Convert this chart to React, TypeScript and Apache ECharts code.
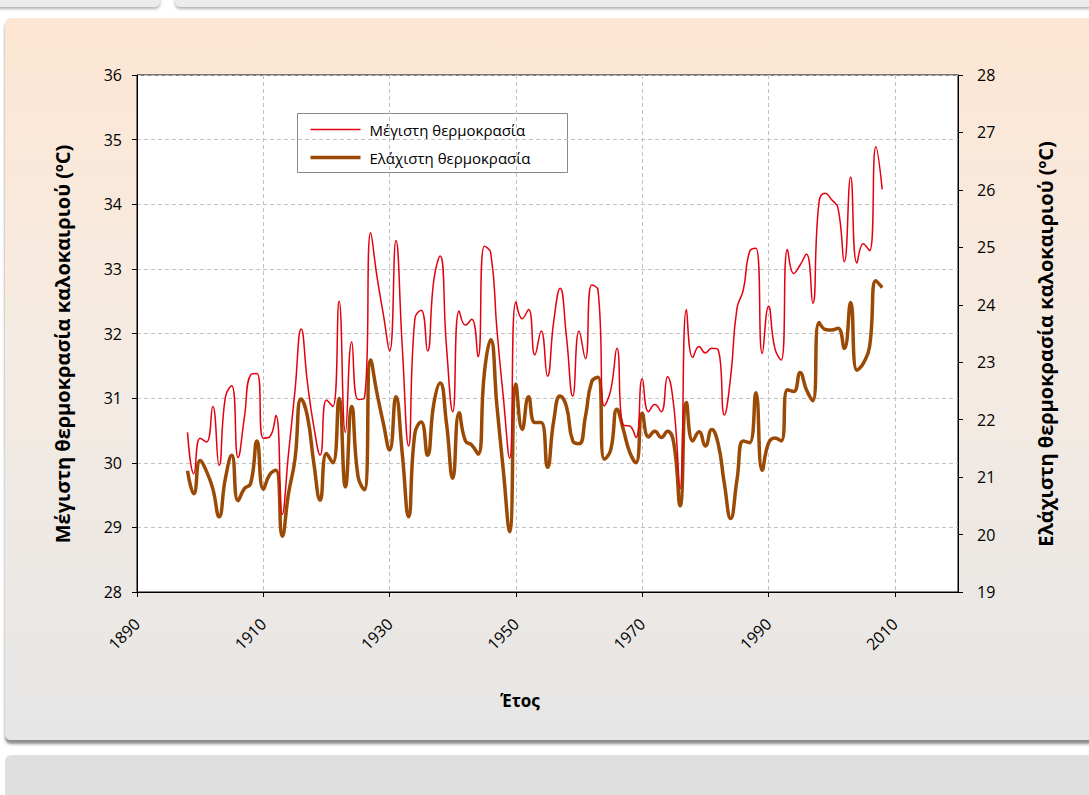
import React, { useEffect, useRef } from "react";
import * as echarts from "echarts";

const FONT = "'Open Sans', 'Noto Sans', sans-serif";

const START_YEAR = 1898;

// Maximum summer temperature (left axis, °C), 1898–2008
const maxTemp = [
  30.47, 29.83, 30.38, 30.32, 30.87, 29.96, 31.02, 31.19, 30.08, 30.70, // 1898-1907
  31.36, 31.38, 30.38, 30.40, 30.73, 29.20, 30.15, 31.10, 32.07, 31.23, // 1908-1917
  30.56, 30.12, 30.97, 30.87, 32.50, 30.47, 31.87, 30.98, 31.00, 33.56, // 1918-1927
  32.88, 32.30, 31.73, 33.44, 31.80, 30.26, 32.23, 32.36, 31.73, 32.83, // 1928-1937
  33.20, 31.80, 30.79, 32.35, 32.13, 32.22, 31.64, 33.35, 33.25, 32.05, // 1938-1947
  31.02, 30.07, 32.49, 32.23, 32.37, 31.67, 32.04, 31.34, 32.20, 32.70, // 1948-1957
  31.95, 31.03, 32.04, 31.61, 32.75, 32.67, 30.88, 31.12, 31.77, 30.58, // 1958-1967
  30.57, 30.39, 31.30, 30.79, 30.90, 30.79, 31.33, 30.87, 29.60, 32.37, // 1968-1977
  31.63, 31.80, 31.70, 31.77, 31.75, 30.74, 31.33, 32.39, 32.67, 33.27, // 1978-1987
  33.32, 31.69, 32.42, 31.77, 31.59, 33.30, 32.93, 33.06, 33.23, 32.47, // 1988-1997
  34.04, 34.17, 34.07, 33.94, 33.11, 34.42, 33.09, 33.39, 33.28, 34.89, // 1998-2007
  34.23, // 2008
];

// Minimum summer temperature (right axis, °C), 1898–2008
const minTemp = [
  21.11, 20.71, 21.29, 21.10, 20.80, 20.31, 20.98, 21.38, 20.59, 20.80, // 1898-1907
  20.89, 21.63, 20.79, 21.04, 21.12, 19.97, 20.72, 21.30, 22.36, 22.05, // 1908-1917
  21.24, 20.60, 21.41, 21.25, 22.37, 20.83, 22.23, 21.01, 20.78, 23.04, // 1918-1927
  22.46, 21.94, 21.47, 22.40, 21.41, 20.31, 21.76, 21.96, 21.38, 22.28, // 1928-1937
  22.64, 21.94, 20.98, 22.12, 21.63, 21.56, 21.40, 22.81, 23.39, 22.23, // 1938-1947
  21.12, 20.05, 22.62, 21.83, 22.40, 21.95, 21.95, 21.17, 21.99, 22.41, // 1948-1957
  22.23, 21.63, 21.58, 22.05, 22.66, 22.74, 21.31, 21.47, 22.18, 21.83, // 1958-1967
  21.44, 21.25, 22.11, 21.70, 21.80, 21.69, 21.80, 21.59, 20.50, 22.30, // 1968-1977
  21.63, 21.79, 21.54, 21.83, 21.59, 20.89, 20.28, 20.95, 21.63, 21.60, // 1978-1987
  22.47, 21.12, 21.59, 21.68, 21.63, 22.52, 22.49, 22.82, 22.52, 22.33, // 1988-1997
  23.69, 23.57, 23.56, 23.59, 23.24, 24.04, 22.86, 22.98, 23.27, 24.42, // 1998-2007
  24.30, // 2008
];

const years = maxTemp.map((_, i) => START_YEAR + i);

const seriesNames = ["Μέγιστη θερμοκρασία", "Ελάχιστη θερμοκρασία"];
const leftTitle = "Μέγιστη θερμοκρασία καλοκαιριού (ºC)";
const rightTitle = "Ελάχιστη θερμοκρασία καλοκαιριού (ºC)";
const xTitle = "Έτος";

const xRange = { min: 1890, max: 2020, interval: 20 };
const leftRange = { min: 28, max: 36, interval: 1 };
const rightRange = { min: 19, max: 28, interval: 1 };

const RED = "#e3000f";
const BROWN = "#9b4a06";

export default function App() {
  const ref = useRef<HTMLDivElement>(null);

  useEffect(() => {
    if (!ref.current) return;
    const chart = echarts.init(ref.current, undefined, { renderer: "svg" });
    const gridDash = { type: [4, 3] as any, color: "#c2c2c2", width: 1 };
    const axisBlack = { show: true, lineStyle: { color: "#000", width: 1 } };
    const titleStyle = {
      fontFamily: FONT,
      fontSize: 20,
      fontWeight: "bold",
      fill: "#000",
      align: "center",
      verticalAlign: "middle",
    };
    const option: any = {
      animation: false,
      backgroundColor: "transparent",
      textStyle: { fontFamily: FONT },
      grid: {
        left: 137,
        right: 131,
        top: 75,
        bottom: 203,
        show: true,
        backgroundColor: "#ffffff",
        borderColor: "#000",
        borderWidth: 1,
      },
      xAxis: {
        type: "value",
        min: xRange.min,
        max: xRange.max,
        interval: xRange.interval,
        axisLine: axisBlack,
        axisTick: { show: true, length: 5, lineStyle: { color: "#000" } },
        axisLabel: {
          rotate: 45,
          fontSize: 16,
          color: "#000",
          margin: 29,
          fontFamily: FONT,
          showMaxLabel: false,
          formatter: (v: number) => String(v),
        },
        splitLine: { show: true, lineStyle: gridDash },
      },
      yAxis: [
        {
          type: "value",
          position: "left",
          min: leftRange.min,
          max: leftRange.max,
          interval: leftRange.interval,
          axisLine: axisBlack,
          axisTick: { show: true, length: 5, lineStyle: { color: "#000" } },
          axisLabel: { fontSize: 16, color: "#000", margin: 15, fontFamily: FONT },
          splitLine: { show: true, lineStyle: gridDash },
        },
        {
          type: "value",
          position: "right",
          min: rightRange.min,
          max: rightRange.max,
          interval: rightRange.interval,
          axisLine: axisBlack,
          axisTick: { show: true, length: 5, lineStyle: { color: "#000" } },
          axisLabel: { fontSize: 16, color: "#000", margin: 19, fontFamily: FONT },
          splitLine: { show: false },
        },
      ],
      series: [
        {
          name: seriesNames[0],
          type: "line",
          yAxisIndex: 0,
          data: years.map((y, i) => [y, maxTemp[i]]),
          smooth: 0.5,
          symbol: "none",
          lineStyle: { color: RED, width: 1.5 },
          itemStyle: { color: RED },
          z: 3,
        },
        {
          name: seriesNames[1],
          type: "line",
          yAxisIndex: 1,
          data: years.map((y, i) => [y, minTemp[i]]),
          smooth: 0.5,
          symbol: "none",
          lineStyle: { color: BROWN, width: 3.5 },
          itemStyle: { color: BROWN },
          z: 2,
        },
      ],
      graphic: [
        {
          type: "group",
          left: 297,
          top: 113,
          z: 10,
          children: [
            {
              type: "rect",
              shape: { x: 0, y: 0, width: 270, height: 59 },
              style: { fill: "#ffffff", stroke: "#8a8a8a", lineWidth: 1 },
            },
            {
              type: "line",
              shape: { x1: 13, y1: 16, x2: 63, y2: 16 },
              style: { stroke: RED, lineWidth: 1.5 },
            },
            {
              type: "text",
              x: 72,
              y: 16,
              style: {
                text: seriesNames[0],
                fontFamily: FONT,
                fontSize: 15,
                fill: "#000",
                align: "left",
                verticalAlign: "middle",
              },
            },
            {
              type: "line",
              shape: { x1: 13, y1: 44, x2: 63, y2: 44 },
              style: { stroke: BROWN, lineWidth: 3.5 },
            },
            {
              type: "text",
              x: 72,
              y: 44,
              style: {
                text: seriesNames[1],
                fontFamily: FONT,
                fontSize: 15,
                fill: "#000",
                align: "left",
                verticalAlign: "middle",
              },
            },
          ],
        },
        {
          type: "text",
          x: 62,
          y: 344,
          rotation: Math.PI / 2,
          style: { ...titleStyle, text: leftTitle },
        },
        {
          type: "text",
          x: 1045,
          y: 344,
          rotation: Math.PI / 2,
          style: { ...titleStyle, text: rightTitle },
        },
        {
          type: "text",
          x: 520,
          y: 700,
          style: { ...titleStyle, fontSize: 17, text: xTitle },
        },
      ],
    };
    chart.setOption(option);
    return () => chart.dispose();
  }, []);

  return (
    <div
      style={{
        position: "absolute",
        left: 0,
        top: 0,
        width: 1089,
        height: 795,
        overflow: "hidden",
        background: "#ffffff",
      }}
    >
      <div
        style={{
          position: "absolute",
          left: -5,
          top: -10,
          width: 165,
          height: 17,
          background: "#ececec",
          borderRadius: 5,
          boxShadow: "0 2px 3px rgba(0,0,0,0.3)",
        }}
      />
      <div
        style={{
          position: "absolute",
          left: 175,
          top: -10,
          width: 930,
          height: 17,
          background: "#ececec",
          borderRadius: 5,
          boxShadow: "0 2px 3px rgba(0,0,0,0.3)",
        }}
      />
      <div
        style={{
          position: "absolute",
          left: 5,
          top: 18,
          width: 1100,
          height: 722,
          borderRadius: 6,
          background: "linear-gradient(180deg, #fde6d3 0%, #f5ebe2 45%, #e6e6e6 100%)",
          boxShadow: "0 4px 3px rgba(0,0,0,0.45)",
        }}
      />
      <div
        style={{
          position: "absolute",
          left: 5,
          top: 755,
          width: 1100,
          height: 60,
          borderRadius: 6,
          background: "#dfdfe0",
        }}
      />
      <div ref={ref} style={{ position: "absolute", left: 0, top: 0, width: 1089, height: 795 }} />
    </div>
  );
}
